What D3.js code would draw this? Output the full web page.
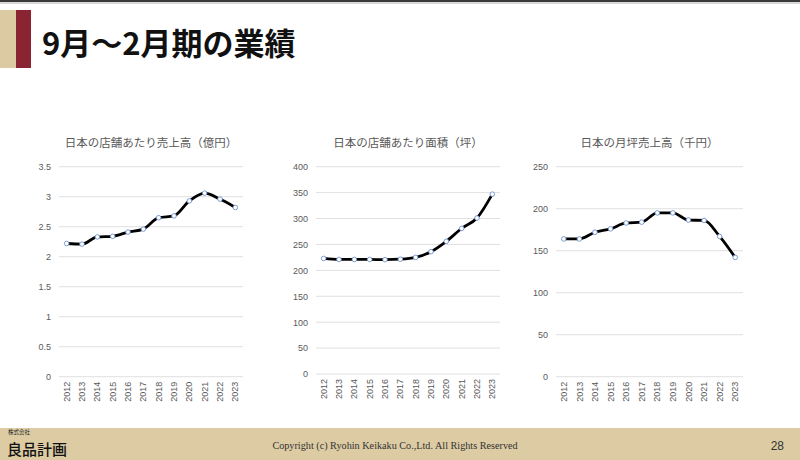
<!DOCTYPE html>
<html>
<head>
<meta charset="utf-8">
<script src="https://cdn.jsdelivr.net/npm/d3@7"></script>
<style>
  body { margin: 0; background: #fff; }
  svg { display: block; }
</style>
</head>
<body>
<div id="chart"></div>
<script>
const years = ["2012", "2013", "2014", "2015", "2016", "2017", "2018", "2019", "2020", "2021", "2022", "2023"]

// 日本の店舗あたり売上高（億円）
const salesPerStore = [2.22, 2.21, 2.33, 2.34, 2.41, 2.46, 2.65, 2.68, 2.93, 3.06, 2.96, 2.82]
// 日本の店舗あたり面積（坪）
const areaPerStore = [223, 221, 221, 221, 220.6, 221.5, 225, 236, 256, 281, 301, 347]
// 日本の月坪売上高（千円）
const salesPerTsubo = [164, 164, 172, 176, 183, 184, 195, 195, 186.5, 186, 167, 142]

const ticks1 = [0, 0.5, 1, 1.5, 2, 2.5, 3, 3.5]
const ticks2 = [0, 50, 100, 150, 200, 250, 300, 350, 400]
const ticks3 = [0, 50, 100, 150, 200, 250]

const width = 800, height = 460

const svg = d3.select("#chart")
    .append("svg")
    .attr("width", width)
    .attr("height", height)

// top edge and header blocks
svg.append("rect").attr("x", 0).attr("y", 0).attr("width", width).attr("height", 2).attr("fill", "#3a3a3a")
svg.append("rect").attr("x", 0).attr("y", 2).attr("width", width).attr("height", 2).attr("fill", "#d8d8d8")
svg.append("rect").attr("x", 0).attr("y", 10).attr("width", 16).attr("height", 58).attr("fill", "#dccaa2")
svg.append("rect").attr("x", 16).attr("y", 10).attr("width", 15).attr("height", 58).attr("fill", "#8a2433")

svg.append("text")
    .attr("x", 42)
    .attr("y", 55)
    .style("font-family", "'Noto Sans CJK JP', sans-serif")
    .style("font-weight", "bold")
    .style("font-size", "31px")
    .style("fill", "#111")
    .text("9月～2月期の業績")

// footer
svg.append("rect").attr("x", 0).attr("y", 428).attr("width", width).attr("height", 32).attr("fill", "#dccba3")
svg.append("text")
    .attr("x", 8).attr("y", 434)
    .style("font-family", "'Noto Sans CJK JP', sans-serif")
    .style("font-size", "5.5px")
    .style("fill", "#222")
    .text("株式会社")
svg.append("text")
    .attr("x", 7).attr("y", 455)
    .style("font-family", "'Noto Sans CJK JP', sans-serif")
    .style("font-weight", "500")
    .style("font-size", "15px")
    .style("fill", "#111")
    .text("良品計画")
svg.append("text")
    .attr("x", 395).attr("y", 449)
    .attr("text-anchor", "middle")
    .style("font-family", "'Liberation Serif', serif")
    .style("font-size", "10.2px")
    .style("fill", "#333")
    .text("Copyright (c) Ryohin Keikaku Co.,Ltd. All Rights Reserved")
svg.append("text")
    .attr("x", 784).attr("y", 450)
    .attr("text-anchor", "end")
    .style("font-family", "'Liberation Sans', sans-serif")
    .style("font-size", "12px")
    .style("fill", "#333")
    .text("28")

function drawChart(opts) {
    const g = svg.append("g")

    const xPositionScale = d3.scaleBand().domain(years).range([opts.left, opts.right])
    const yPositionScale = d3.scaleLinear().domain([0, d3.max(opts.ticks)]).range([opts.bottom, 166.7])

    g.append("text")
        .attr("x", (opts.left + opts.right) / 2)
        .attr("y", 147)
        .attr("text-anchor", "middle")
        .style("font-family", "'Noto Sans CJK JP', sans-serif")
        .style("font-size", "11.5px")
        .style("fill", "#595959")
        .text(opts.title)

    // gridlines
    g.selectAll(".grid")
        .data(opts.ticks)
        .enter().append("line")
        .attr("x1", opts.left)
        .attr("x2", opts.right)
        .attr("y1", d => yPositionScale(d))
        .attr("y2", d => yPositionScale(d))
        .attr("stroke", "#e0e0e0")
        .attr("stroke-width", 1)

    const yAxis = d3.axisLeft(yPositionScale).tickValues(opts.ticks).tickSize(0).tickPadding(opts.pad).tickFormat(d => d)
    const yG = g.append("g")
        .attr("transform", "translate(" + opts.left + ",0)")
        .call(yAxis)
    yG.select(".domain").remove()
    yG.selectAll("text")
        .style("font-family", "'Liberation Sans', sans-serif")
        .style("font-size", "9px")
        .style("fill", "#595959")

    const xAxis = d3.axisBottom(xPositionScale).tickSize(0).tickPadding(4)
    const xG = g.append("g")
        .attr("transform", "translate(0," + opts.bottom + ")")
        .call(xAxis)
    xG.select(".domain").remove()
    xG.selectAll("text")
        .attr("transform", "rotate(-90)")
        .attr("x", -5)
        .attr("y", 0)
        .attr("dy", "0.35em")
        .attr("text-anchor", "end")
        .style("font-family", "'Liberation Sans', sans-serif")
        .style("font-size", "9px")
        .style("fill", "#595959")

    const line = d3.line()
        .x((d, i) => xPositionScale(years[i]) + xPositionScale.bandwidth() / 2)
        .y(d => yPositionScale(d))
        .curve(d3.curveMonotoneX)

    g.append("path")
        .datum(opts.values)
        .attr("d", line)
        .attr("fill", "none")
        .attr("stroke", "#000")
        .attr("stroke-width", 2.8)
        .attr("stroke-linejoin", "round")

    g.selectAll(".dot")
        .data(opts.values)
        .enter().append("circle")
        .attr("cx", (d, i) => xPositionScale(years[i]) + xPositionScale.bandwidth() / 2)
        .attr("cy", d => yPositionScale(d))
        .attr("r", 2.3)
        .attr("fill", "#fff")
        .attr("stroke", "#6f93d0")
        .attr("stroke-width", 0.9)
}

drawChart({ title: "日本の店舗あたり売上高（億円）", values: salesPerStore, ticks: ticks1, left: 59, right: 243, bottom: 376.7, pad: 8 })
drawChart({ title: "日本の店舗あたり面積（坪）", values: areaPerStore, ticks: ticks2, left: 316, right: 500, bottom: 374, pad: 8 })
drawChart({ title: "日本の月坪売上高（千円）", values: salesPerTsubo, ticks: ticks3, left: 556, right: 743, bottom: 376.7, pad: 8 })
</script>
</body>
</html>
